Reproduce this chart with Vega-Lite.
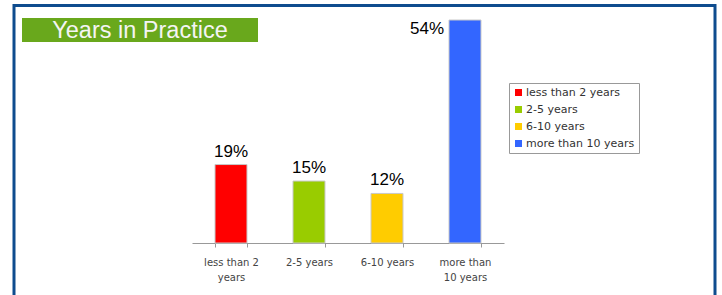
{
  "$schema": "https://vega.github.io/schema/vega-lite/v6.json",
  "width": 701,
  "height": 310,
  "autosize": {"type": "none"},
  "padding": {"left": 14, "top": 5.5, "right": 7, "bottom": 0},
  "background": "white",
  "config": {
    "view": {"stroke": "#0e4c8e", "strokeWidth": 3},
    "font": "Liberation Sans"
  },
  "resolve": {"scale": {"x": "independent", "y": "independent", "color": "independent"}},
  "layer": [
    {
      "data": {"values": [{"title": "Years in Practice"}]},
      "layer": [
        {
          "mark": {"type": "rect", "color": "#69a81c"},
          "encoding": {
            "x": {"field": "title", "type": "nominal", "axis": null, "scale": {"range": [8, 244], "paddingInner": 0, "paddingOuter": 0}},
            "y": {"field": "title", "type": "nominal", "axis": null, "scale": {"range": [12.5, 36.5], "paddingInner": 0, "paddingOuter": 0}}
          }
        },
        {
          "mark": {"type": "text", "color": "#f4f4f4", "fontSize": 23.5, "font": "Liberation Sans", "baseline": "middle", "align": "center", "dy": 1},
          "encoding": {
            "x": {"field": "title", "type": "nominal", "axis": null, "scale": {"range": [8, 244], "paddingInner": 0, "paddingOuter": 0}},
            "y": {"field": "title", "type": "nominal", "axis": null, "scale": {"range": [12.5, 36.5], "paddingInner": 0, "paddingOuter": 0}},
            "text": {"field": "title"}
          }
        }
      ]
    },
    {
      "data": {"values": [
        {"category": "less than 2 years", "pct": 0.19},
        {"category": "2-5 years", "pct": 0.15},
        {"category": "6-10 years", "pct": 0.12},
        {"category": "more than 10 years", "pct": 0.54}
      ]},
      "encoding": {
        "x": {
          "field": "category", "type": "nominal",
          "sort": ["less than 2 years", "2-5 years", "6-10 years", "more than 10 years"],
          "scale": {"range": [178, 490], "paddingInner": 0.59, "paddingOuter": 0.295},
          "axis": {
            "title": null, "labelAngle": 0, "offset": -72.5,
            "tickBand": "extent", "domainColor": "#999999", "tickColor": "#999999", "tickSize": 4,
            "labelFont": "DejaVu Sans", "labelFontSize": 10, "labelColor": "#444444", "labelPadding": 10, "labelLineHeight": 15,
            "labelExpr": "datum.value == 'less than 2 years' ? ['less than 2', 'years'] : datum.value == 'more than 10 years' ? ['more than', '10 years'] : datum.value"
          }
        },
        "y": {"field": "pct", "type": "quantitative", "scale": {"domain": [0, 0.54], "range": [237.5, 14.5], "nice": false, "zero": true}, "axis": null}
      },
      "layer": [
        {
          "mark": {"type": "bar", "stroke": "#c8c8c8", "strokeWidth": 1},
          "encoding": {
            "color": {
              "field": "category", "type": "nominal",
              "sort": ["less than 2 years", "2-5 years", "6-10 years", "more than 10 years"],
              "scale": {"domain": ["less than 2 years", "2-5 years", "6-10 years", "more than 10 years"], "range": ["#ff0000", "#99cc00", "#ffcc00", "#3366ff"]},
              "legend": {
                "title": null, "orient": "none", "legendX": 495, "legendY": 77.5,
                "symbolType": "square", "symbolSize": 49, "symbolStrokeWidth": 0,
                "labelFont": "DejaVu Sans", "labelFontSize": 11, "labelColor": "#333333", "labelOffset": 2,
                "rowPadding": 5, "padding": 4, "strokeColor": "#999999", "fillColor": "white"
              }
            }
          }
        },
        {
          "transform": [{"filter": "datum.category != 'more than 10 years'"}],
          "mark": {"type": "text", "fontSize": 17, "font": "Liberation Sans", "color": "#000000", "baseline": "bottom", "dy": -4},
          "encoding": {"text": {"field": "pct", "type": "quantitative", "format": ".0%"}}
        },
        {
          "transform": [{"filter": "datum.category == 'more than 10 years'"}],
          "mark": {"type": "text", "fontSize": 17, "font": "Liberation Sans", "color": "#000000", "baseline": "top", "align": "right", "dx": -21, "dy": 1},
          "encoding": {"text": {"field": "pct", "type": "quantitative", "format": ".0%"}}
        }
      ]
    }
  ]
}
